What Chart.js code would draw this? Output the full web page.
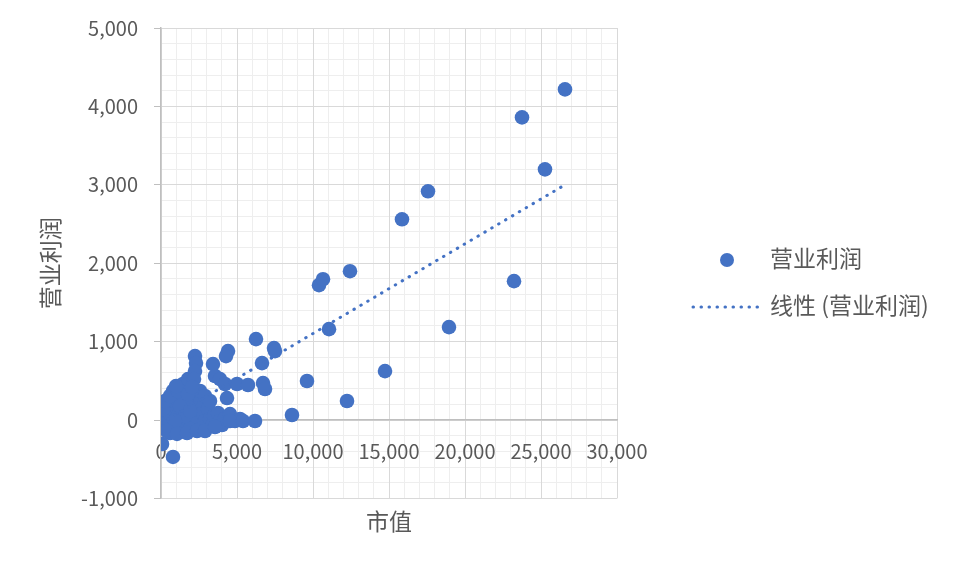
<!DOCTYPE html>
<html>
<head>
<meta charset="utf-8">
<script src="https://cdn.jsdelivr.net/npm/chart.js@4.4.0/dist/chart.umd.min.js"></script>
<style>
    body { margin: 0; background: #fff; }
    .chart-box { width: 955px; height: 569px; }
</style>
</head>
<body>
<div class="chart-box">
    <canvas id="scatterChart"></canvas>
</div>
<script>
//! بيانات النقط (市值 / 营业利润)
const marketValue = [
    20, 66, 263, 461, 592, 724, 921, 1118, 1250, 1382, 1579, 1645, 1776, 1908, 2039,
    2237, 2434, 2566, 2763, 2895, 3092, 3224, 3487, 3750, 3882, 4211, 4539, 4868, 5197,
    987, 789, 461, 132, 10, 592, 1250, 1908, 2566, 3355, 4013,
    263, 592, 1118, 1447, 1776, 1250, 1579, 1908, 921, 395, 1053, 1711, 2368, 2895,
    3553, 4539, 5395, 2566, 2895, 3224, 1776, 987,
    2237, 2303, 2237, 2171, 2039,
    4408, 4276, 3421, 3553, 3882, 4211, 5000, 5724, 4342,
    66, 789,
    6711, 6842, 6645, 6250, 7434, 7500, 6184, 8618, 9605, 12237, 14737,
    11053, 18947, 10395, 10658, 12434, 23224, 15855, 17566, 25263, 23750, 26579
];
const operatingProfit = [
    -10, 51, -76, 115, 13, -115, 178, 51, 306, -38, 395, 178, 76, 268, -76,
    115, 13, 217, 89, -13, 140, 13, 51, 89, -13, 25, 76, -13, 13,
    268, 370, 242, 140, -64, -166, -140, -115, -115, -76, -64,
    242, 306, 370, 459, 522, 178, 51, 115, -13, -140, -178, -166, -140, -140,
    -89, -13, -13, 370, 306, 242, 331, 433,
    815, 726, 624, 522, 420,
    879, 815, 713, 561, 522, 459, 459, 446, 280,
    -306, -471,
    471, 395, 726, 1032, 917, 879, -13, 64, 497, 242, 624,
    1159, 1185, 1720, 1796, 1898, 1771, 2560, 2917, 3197, 3860, 4217
];

//! خط الاتجاه (线性)
const trendX = [0, 26579];
const trendY = [-41, 3000];

const seriesName = '营业利润';
const trendName = '线性 (营业利润)';
const xTitle = '市值';
const yTitle = '营业利润';

const blue = '#4472C4';
const textColor = '#595959';
const majorGrid = '#d9d9d9';
const minorGrid = '#eeeeee';
const axisLine = '#bfbfbf';

Chart.defaults.font.family = '"Noto Sans CJK SC", "Noto Sans", sans-serif';
Chart.defaults.color = textColor;

// الليجند على اليمين
const rightLegend = {
    id: 'rightLegend',
    afterDraw(chart) {
        const c = chart.ctx;
        const items = [
            { label: chart.data.datasets[1].label, y: 260, kind: 'point' },
            { label: chart.data.datasets[0].label, y: 307, kind: 'line' },
        ];
        c.save();
        c.font = '23px "Noto Sans CJK SC", "Noto Sans", sans-serif';
        c.textBaseline = 'middle';
        items.forEach((it) => {
            if (it.kind === 'point') {
                c.fillStyle = blue;
                c.beginPath();
                c.arc(727, it.y, 7, 0, Math.PI * 2);
                c.fill();
            } else {
                c.strokeStyle = blue;
                c.lineWidth = 3;
                c.lineCap = 'round';
                c.setLineDash([0.5, 7.5]);
                c.beginPath();
                c.moveTo(693, it.y);
                c.lineTo(760, it.y);
                c.stroke();
                c.setLineDash([]);
            }
            c.fillStyle = textColor;
            c.fillText(it.label, 770, it.y - 2);
        });
        c.restore();
    }
};

const points = marketValue.map((x, i) => ({ x: x, y: operatingProfit[i] }));
const trendPoints = trendX.map((x, i) => ({ x: x, y: trendY[i] }));

const ctx = document.getElementById('scatterChart');
new Chart(ctx, {
    type: 'scatter',
    data: {
        datasets: [
            {
                label: trendName,
                data: trendPoints,
                type: 'line',
                showLine: true,
                borderColor: blue,
                borderWidth: 3,
                borderDash: [0.5, 7.5],
                borderCapStyle: 'round',
                pointRadius: 0,
                fill: false,
                order: 0,
            },
            {
                label: seriesName,
                data: points,
                backgroundColor: blue,
                borderColor: blue,
                pointRadius: 7.3,
                borderWidth: 0,
                order: 1,
            },
        ]
    },
    options: {
        responsive: true,
        maintainAspectRatio: false,
        animation: false,
        locale: 'en-US',
        layout: {
            padding: { left: 34, right: 338, top: 26, bottom: 30 }
        },
        plugins: {
            legend: { display: false },
            tooltip: { enabled: false },
        },
        scales: {
            x2: {
                type: 'linear',
                position: 'bottom',
                min: 0,
                max: 30000,
                z: -1,
                grid: { color: minorGrid, drawTicks: false },
                border: { display: false },
                ticks: { display: false, stepSize: 1000 },
                title: {
                    display: true,
                    text: xTitle,
                    color: textColor,
                    font: { size: 23 },
                    padding: { top: 9, bottom: 4 },
                },
            },
            y2: {
                type: 'linear',
                position: 'left',
                min: -1000,
                max: 5000,
                z: -1,
                grid: { color: minorGrid, drawTicks: false },
                border: { display: false },
                ticks: { display: false, stepSize: 200 },
                afterFit: (scale) => { scale.width = 0; },
            },
            x: {
                type: 'linear',
                position: { y: 0 },
                min: 0,
                max: 30000,
                grid: { color: majorGrid, drawTicks: false },
                border: { color: axisLine, width: 1.5 },
                ticks: {
                    stepSize: 5000,
                    color: textColor,
                    font: { size: 20 },
                    padding: 19,
                    maxRotation: 0,
                },
            },
            y: {
                type: 'linear',
                position: 'left',
                min: -1000,
                max: 5000,
                grid: { color: majorGrid, tickLength: 7, tickColor: axisLine },
                border: { color: axisLine, width: 1.5 },
                ticks: {
                    stepSize: 1000,
                    color: textColor,
                    font: { size: 20 },
                    padding: 16,
                },
                title: {
                    display: true,
                    text: yTitle,
                    color: textColor,
                    font: { size: 23 },
                    padding: { top: 2, bottom: 0 },
                },
                afterFit: (scale) => { scale.width = 127; },
            },
        }
    },
    plugins: [rightLegend]
});
</script>
</body>
</html>
